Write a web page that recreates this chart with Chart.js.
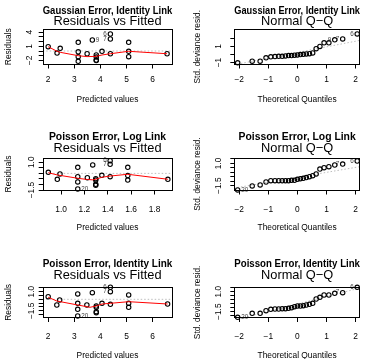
<!DOCTYPE html>
<html>
<head>
<meta charset="utf-8">
<script src="https://cdn.jsdelivr.net/npm/chart.js@4.4.1/dist/chart.umd.min.js"></script>
<style>
  body { margin: 0; background: #fff; overflow: hidden; }
  canvas { position: absolute; }
</style>
</head>
<body>
<canvas id="p1" width="186" height="120" style="left:0;top:0"></canvas>
<canvas id="p2" width="185" height="120" style="left:186px;top:0"></canvas>
<canvas id="p3" width="186" height="120" style="left:0;top:120px"></canvas>
<canvas id="p4" width="185" height="120" style="left:186px;top:120px"></canvas>
<canvas id="p5" width="186" height="119" style="left:0;top:240px"></canvas>
<canvas id="p6" width="185" height="119" style="left:186px;top:240px"></canvas>
<script>
// ---- data ----

// theoretical normal quantiles for 25 residuals
const theoQuant = [-2.054, -1.555, -1.282, -1.080, -0.915, -0.772, -0.643, -0.524, -0.412, -0.305,
  -0.202, -0.100, 0, 0.100, 0.202, 0.305, 0.412, 0.524, 0.643, 0.772, 0.915, 1.080, 1.282, 1.555, 2.054];
const qqLineX = [-2.3, 2.3];

// Gaussian error, identity link
const gaussFitted = [2.00, 2.34, 2.46, 3.15, 3.15, 3.15, 3.15, 3.49, 3.69, 3.84, 3.84, 3.84, 3.84, 4.06, 4.38, 4.38, 4.38, 5.08, 5.08, 5.08, 6.55];
const gaussResid = [0.92, -0.43, 0.58, 1.86, -0.18, -1.21, -2.20, -0.58, 2.35, -0.85, -1.30, -1.92, -2.05, -0.06, 3.63, 2.56, -0.58, 1.86, -0.06, -1.21, -0.58];
const gaussSmoothX = [2.00, 2.34, 2.46, 3.15, 3.49, 3.84, 4.06, 4.38, 5.08, 6.55];
const gaussSmoothY = [0.92, -0.06, -0.28, -1.00, -1.20, -1.14, -0.85, -0.58, -0.06, -0.58];
const gaussStdResid = [-1.04, -0.84, -0.84, -0.42, -0.30, -0.26, -0.23, -0.23, -0.18, -0.14, -0.14, -0.10, -0.06,
  -0.02, 0.02, 0.07, 0.10, 0.19, 0.72, 1.00, 1.45, 1.45, 1.82, 1.94, 2.56];
const gaussQQLineY = [-1.37, 1.86];
const gaussResidIds = [[8, '9'], [14, '6'], [15, '7']];
const gaussQQIds = [[22, '9'], [23, '7'], [24, '6']];

// Poisson error, log link
const poisLogFitted = [0.891, 0.968, 0.991, 1.143, 1.143, 1.143, 1.143, 1.225, 1.271, 1.297, 1.297, 1.297, 1.297, 1.349, 1.420, 1.420, 1.420, 1.571, 1.571, 1.571, 1.914];
const poisLogResid = [0.10, -0.53, -0.05, 0.55, -0.30, -0.77, -1.40, -0.39, 0.76, -0.48, -0.60, -0.98, -1.07, -0.17, 1.14, 0.82, -0.30, 0.55, -0.20, -0.60, -0.53];
const poisLogSmoothX = [0.891, 0.968, 0.991, 1.143, 1.225, 1.271, 1.297, 1.349, 1.420, 1.571, 1.914];
const poisLogSmoothY = [0.06, -0.14, -0.18, -0.44, -0.55, -0.58, -0.53, -0.35, -0.24, -0.08, -0.53];
const poisLogStdResid = [-1.98, -1.53, -1.42, -1.09, -0.94, -0.94, -0.94, -0.94, -0.94, -0.94, -0.90, -0.90, -0.79,
  -0.72, -0.68, -0.60, -0.49, -0.38, -0.19, 0.36, 0.51, 0.62, 0.81, 0.92, 1.26];
const poisLogQQLineY = [-1.84, 0.71];
const poisLogResidIds = [[6, '20'], [14, '6'], [15, '7']];
const poisLogQQIds = [[0, '20'], [23, '7'], [24, '6']];

// Poisson error, identity link
const poisIdFitted = [2.00, 2.33, 2.44, 3.13, 3.13, 3.13, 3.13, 3.48, 3.69, 3.84, 3.84, 3.84, 3.84, 4.06, 4.38, 4.38, 4.38, 5.08, 5.08, 5.08, 6.57];
const poisIdResid = [0.35, -0.74, -0.08, 0.70, -0.52, -1.30, -2.18, -0.74, 0.87, -0.87, -1.04, -1.61, -1.75, -0.52, 1.58, 1.00, -0.65, 0.57, -0.52, -1.04, -0.61];
const poisIdSmoothX = [2.00, 2.33, 3.13, 3.60, 3.84, 4.06, 4.38, 5.08, 6.57];
const poisIdSmoothY = [0.27, -0.22, -0.74, -1.04, -0.87, -0.61, -0.52, -0.31, -0.61];
const poisIdStdResid = [-2.20, -1.70, -1.70, -1.37, -1.20, -1.16, -1.16, -1.12, -1.12, -1.08, -1.00, -0.87, -0.79,
  -0.79, -0.75, -0.66, -0.58, -0.45, 0.09, 0.30, 0.59, 0.59, 0.80, 0.88, 1.55];
const poisIdQQLineY = [-2.67, 1.61];
const poisIdResidIds = [[6, '20'], [14, '6'], [15, '7']];
const poisIdQQIds = [[0, '20'], [23, '7'], [24, '6']];

// axis ticks and which of them carry a label
const fittedTicks = [2, 3, 4, 5, 6];
const logFittedTicks = [1.0, 1.2, 1.4, 1.6, 1.8];
const quantTicks = [-2, -1, 0, 1, 2];
const gaussResidTicks = [-2, -1, 0, 1, 2, 3, 4];
const gaussResidLabelled = [4, 1, -2];
const gaussQQTicks = [-1, 0, 1, 2];
const gaussQQLabelled = [1, -1];
const poisResidTicks = [-2, -1.5, -1, -0.5, 0, 0.5, 1, 1.5];
const poisLabelled = [1, -1.5];

// ---- drawing ----

const FONT = '"Liberation Sans", Arial, Helvetica, sans-serif';
const AXIS_FONT = { family: FONT, size: 8.4, lineHeight: 1 };
const mctx = document.createElement('canvas').getContext('2d');

function fmt(v, dp) {
  return v.toFixed(dp).replace('-', '\u2212');
}

function pts(xs, ys) {
  return xs.map((x, i) => ({ x: x, y: ys[i] }));
}

// R draws a box round the plot region
const framePlugin = {
  id: 'frame',
  afterDraw(chart) {
    const a = chart.chartArea, ctx = chart.ctx;
    ctx.save();
    ctx.strokeStyle = '#000';
    ctx.lineWidth = 1;
    ctx.strokeRect(Math.round(a.left) + 0.5, Math.round(a.top) + 0.5,
      Math.round(a.right - a.left) - 1, Math.round(a.bottom - a.top) - 1);
    ctx.restore();
  }
};

// small observation numbers next to the extreme points
const idPlugin = {
  id: 'idLabels',
  afterDatasetsDraw(chart, args, opts) {
    const meta = chart.getDatasetMeta(1);
    const raw = chart.data.datasets[1].data;
    const xs = chart.scales.x;
    const mid = (xs.min + xs.max) / 2;
    const ctx = chart.ctx;
    ctx.save();
    ctx.font = '6.3px ' + FONT;
    ctx.fillStyle = '#444';
    ctx.textBaseline = 'middle';
    (opts.items || []).forEach(([i, txt]) => {
      const el = meta.data[i];
      const left = raw[i].x > mid;
      ctx.textAlign = left ? 'right' : 'left';
      ctx.fillText(txt, el.x + (left ? -3.5 : 3.5), el.y);
    });
    ctx.restore();
  }
};

function makePanel(id, p) {
  const canvas = document.getElementById(id);
  const W = canvas.width, H = canvas.height;
  const [bl, bt, br, bb] = p.box;
  const tl = 4;
  const [tc, sc] = p.titleY;

  mctx.font = '8.4px ' + FONT;
  const widest = Math.max(...p.yLabelled.map(v => mctx.measureText(fmt(v, p.yDp)).width));

  const datasets = [
    { data: p.refLine, showLine: true, borderColor: '#bebebe', borderWidth: 1, borderDash: [1.5, 2],
      pointRadius: 0, order: 3 },
    { data: p.points, pointRadius: 2.2, pointBorderWidth: 1.1, pointBorderColor: '#000',
      pointBackgroundColor: 'rgba(0,0,0,0)', order: 2, clip: false }
  ];
  if (p.smooth) {
    datasets.push({ data: p.smooth, showLine: true, borderColor: '#ff0000', borderWidth: 1,
      pointRadius: 0, order: 1 });
  }

  new Chart(canvas, {
    type: 'scatter',
    data: { datasets: datasets },
    options: {
      responsive: false,
      animation: false,
      events: [],
      layout: { padding: { top: 0, left: 0, right: W - br, bottom: 0 } },
      plugins: {
        legend: { display: false },
        tooltip: { enabled: false },
        title: {
          display: true, text: p.main, fullSize: false, color: '#000',
          font: { family: FONT, size: 10.4, weight: 'bold', lineHeight: 1 },
          padding: { top: tc - 5.2, bottom: 0 }
        },
        subtitle: {
          display: true, text: p.caption, fullSize: false, color: '#000',
          font: { family: FONT, size: 12.8, lineHeight: 1 },
          padding: { top: sc - 6.4 - (tc + 5.2), bottom: bt - sc - 6.4 }
        },
        idLabels: { items: p.ids }
      },
      scales: {
        x: {
          type: 'linear', min: p.xRange[0], max: p.xRange[1],
          afterBuildTicks: s => { s.ticks = p.xTicks.map(v => ({ value: v })); },
          afterFit: s => { s.height = H - bb; },
          border: { display: false },
          grid: { drawOnChartArea: false, tickLength: tl, color: '#000' },
          ticks: {
            autoSkip: false, maxRotation: 0, color: '#000', font: AXIS_FONT,
            padding: p.xLabelY - bb - tl - 4.2,
            callback: v => fmt(v, p.xDp)
          },
          title: { display: true, text: p.xTitle, color: '#000', font: AXIS_FONT,
            padding: { top: 0, bottom: H - p.xTitleY - 4.2 } }
        },
        y: {
          type: 'linear', min: p.yRange[0], max: p.yRange[1],
          afterBuildTicks: s => { s.ticks = p.yTicks.map(v => ({ value: v })); },
          afterFit: s => { s.width = bl; },
          border: { display: false },
          grid: { drawOnChartArea: false, tickLength: tl, color: '#000' },
          ticks: {
            autoSkip: false, minRotation: 90, maxRotation: 90, crossAlign: 'center',
            color: '#000', font: AXIS_FONT,
            padding: bl - p.yLabelX - tl - widest / 2,
            callback: v => p.yLabelled.includes(v) ? fmt(v, p.yDp) : ''
          },
          title: { display: true, text: p.yTitle, color: '#000', font: AXIS_FONT,
            padding: { top: p.yTitleX - 4.2, bottom: 0 } }
        }
      }
    },
    plugins: [framePlugin, idPlugin]
  });
}

const rowLayout = [
  { box: [10.8, 21.7, 29, 64.5], xLabelY: 79.7, xTitleY: 100 },
  { box: [17, 28, 37.5, 70.5], xLabelY: 89.2, xTitleY: 108 },
  { box: [24.3, 35, 46.7, 78], xLabelY: 96.7, xTitleY: 115.5 }
];

function residPanel(id, row, main, cfg) {
  const r = rowLayout[row];
  makePanel(id, Object.assign({
    main: main, caption: 'Residuals vs Fitted',
    xTitle: 'Predicted values', yTitle: 'Residuals',
    box: [42.7, r.box[2], 172.3, r.box[3]], titleY: [r.box[0], r.box[1]],
    xLabelY: r.xLabelY, xTitleY: r.xTitleY,
    yLabelX: row === 0 ? 29.5 : 32, yTitleX: 8.5,
    refLine: [{ x: cfg.xRange[0], y: 0 }, { x: cfg.xRange[1], y: 0 }]
  }, cfg));
}

function qqPanel(id, row, main, cfg) {
  const r = rowLayout[row];
  makePanel(id, Object.assign({
    main: main, caption: 'Normal Q\u2212Q',
    xTitle: 'Theoretical Quantiles', yTitle: 'Std. deviance resid.',
    box: [48.3, r.box[2], 174, r.box[3]], titleY: [r.box[0], r.box[1]],
    xLabelY: r.xLabelY, xTitleY: r.xTitleY,
    yLabelX: 32.3, yTitleX: 11.7,
    xRange: [-2.17, 2.15], xTicks: quantTicks, xDp: 0
  }, cfg));
}

residPanel('p1', 0, 'Gaussian Error, Identity Link', {
  points: pts(gaussFitted, gaussResid), smooth: pts(gaussSmoothX, gaussSmoothY), ids: gaussResidIds,
  xRange: [1.79, 6.75], xTicks: fittedTicks, xDp: 0,
  yRange: [-2.88, 4.7], yTicks: gaussResidTicks, yLabelled: gaussResidLabelled, yDp: 0
});
qqPanel('p2', 0, 'Gaussian Error, Identity Link', {
  points: pts(theoQuant, gaussStdResid), refLine: pts(qqLineX, gaussQQLineY), ids: gaussQQIds,
  yRange: [-1.25, 3.17], yTicks: gaussQQTicks, yLabelled: gaussQQLabelled, yDp: 0
});
residPanel('p3', 1, 'Poisson Error, Log Link', {
  points: pts(poisLogFitted, poisLogResid), smooth: pts(poisLogSmoothX, poisLogSmoothY), ids: poisLogResidIds,
  xRange: [0.843, 1.952], xTicks: logFittedTicks, xDp: 1,
  yRange: [-1.54, 1.43], yTicks: poisResidTicks.slice(1, 7), yLabelled: poisLabelled, yDp: 1
});
qqPanel('p4', 1, 'Poisson Error, Log Link', {
  points: pts(theoQuant, poisLogStdResid), refLine: pts(qqLineX, poisLogQQLineY), ids: poisLogQQIds,
  yRange: [-2.04, 1.65], yTicks: poisResidTicks.slice(1), yLabelled: poisLabelled, yDp: 1
});
residPanel('p5', 2, 'Poisson Error, Identity Link', {
  points: pts(poisIdFitted, poisIdResid), smooth: pts(poisIdSmoothX, poisIdSmoothY), ids: poisIdResidIds,
  xRange: [1.79, 6.75], xTicks: fittedTicks, xDp: 0,
  yRange: [-2.44, 1.65], yTicks: poisResidTicks, yLabelled: poisLabelled, yDp: 1
});
qqPanel('p6', 2, 'Poisson Error, Identity Link', {
  points: pts(theoQuant, poisIdStdResid), refLine: pts(qqLineX, poisIdQQLineY), ids: poisIdQQIds,
  yRange: [-2.29, 1.63], yTicks: poisResidTicks, yLabelled: poisLabelled, yDp: 1
});
</script>
</body>
</html>
